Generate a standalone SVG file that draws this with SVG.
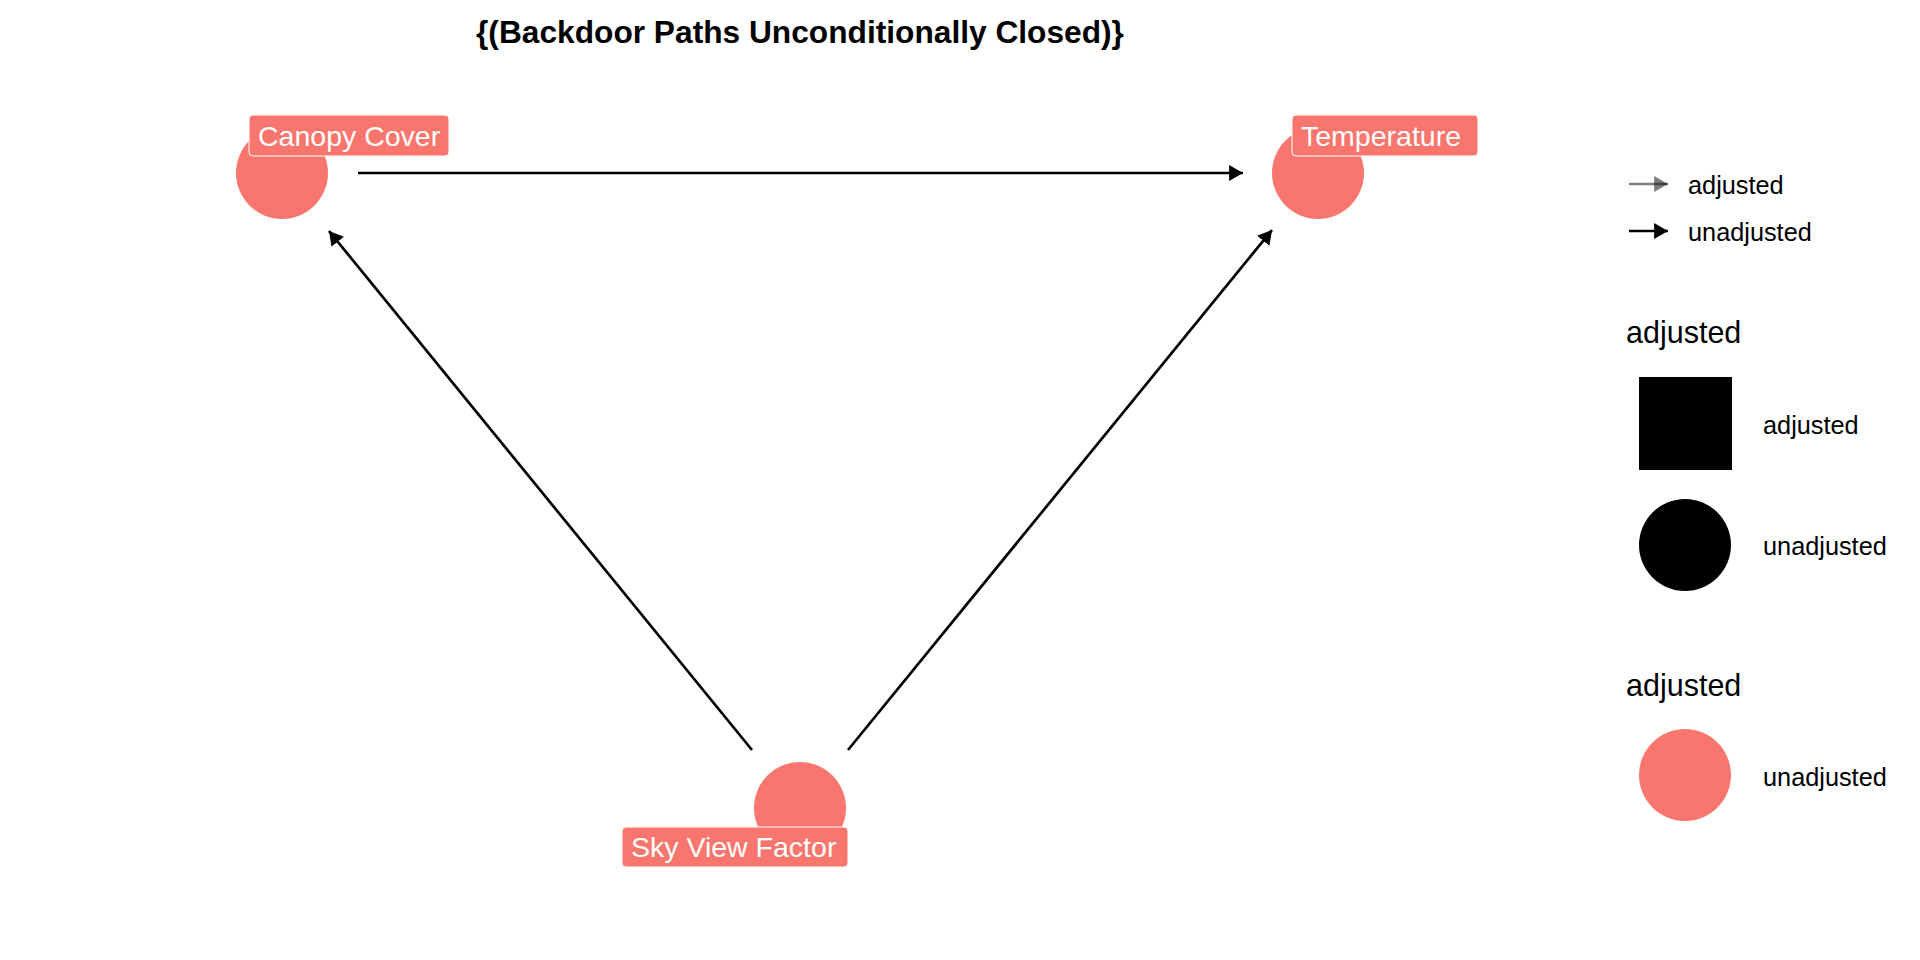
<svg xmlns="http://www.w3.org/2000/svg" width="1920" height="960" viewBox="0 0 1920 960">
<defs>
<style>
.edge{stroke:#000;stroke-width:2.7;fill:none}
.node{fill:#F8766D}
.lbox{fill:#F8766D;stroke:#fff;stroke-width:1}
.ltext{font-family:"Liberation Sans",Arial,sans-serif;font-size:28.5px;fill:#fff}
.title{font-family:"Liberation Sans",Arial,sans-serif;font-size:31.7px;font-weight:bold;fill:#000}
.legtitle{font-family:"Liberation Sans",Arial,sans-serif;font-size:30.5px;fill:#000}
.legtext{font-family:"Liberation Sans",Arial,sans-serif;font-size:25.3px;fill:#000}
</style>
<marker id="arr" markerUnits="userSpaceOnUse" markerWidth="14" markerHeight="16" viewBox="0 0 13 15" refX="13" refY="7.5" orient="auto">
<path d="M0,0 L13,7.5 L0,15 Z" fill="#000"/>
</marker>
<marker id="arrgray" markerUnits="userSpaceOnUse" markerWidth="14" markerHeight="16" viewBox="0 0 13 15" refX="13" refY="7.5" orient="auto">
<path d="M0,0 L13,7.5 L0,15 Z" fill="#000" fill-opacity="0.5"/>
</marker>
</defs>
<rect width="1920" height="960" fill="#fff"/>
<text class="title" x="800" y="43" text-anchor="middle">{(Backdoor Paths Unconditionally Closed)}</text>
<g id="connectors">
<line class="edge" x1="358" y1="173" x2="1243" y2="173" marker-end="url(#arr)"/>
<line class="edge" x1="752" y1="750" x2="329" y2="231" marker-end="url(#arr)"/>
<line class="edge" x1="848" y1="750" x2="1272" y2="230" marker-end="url(#arr)"/>
</g>
<g id="node-canopy">
<circle class="node" cx="282" cy="173" r="46"/>
<rect class="lbox" x="249" y="115" width="200" height="41" rx="4"/>
<text class="ltext" x="258" y="146">Canopy Cover</text>
</g>
<g id="node-temperature">
<circle class="node" cx="1318" cy="173" r="46"/>
<rect class="lbox" x="1292" y="115" width="186" height="41" rx="4"/>
<text class="ltext" x="1301" y="146">Temperature</text>
</g>
<g id="node-sky">
<circle class="node" cx="800" cy="808" r="46"/>
<rect class="lbox" x="622" y="827" width="226" height="40" rx="4"/>
<text class="ltext" x="631" y="857">Sky View Factor</text>
</g>
<g id="legend">
<line x1="1629" y1="184" x2="1668" y2="184" stroke="#000" stroke-opacity="0.5" stroke-width="2.7" marker-end="url(#arrgray)"/>
<text class="legtext" x="1688" y="194">adjusted</text>
<line x1="1629" y1="231" x2="1668" y2="231" stroke="#000" stroke-width="2.7" marker-end="url(#arr)"/>
<text class="legtext" x="1688" y="241">unadjusted</text>
<text class="legtitle" x="1626" y="343">adjusted</text>
<rect x="1639" y="377" width="93" height="93" fill="#000"/>
<text class="legtext" x="1763" y="434">adjusted</text>
<circle cx="1685" cy="545" r="46" fill="#000"/>
<text class="legtext" x="1763" y="555">unadjusted</text>
<text class="legtitle" x="1626" y="696">adjusted</text>
<circle class="node" cx="1685" cy="775" r="46"/>
<text class="legtext" x="1763" y="786">unadjusted</text>
</g>
</svg>
